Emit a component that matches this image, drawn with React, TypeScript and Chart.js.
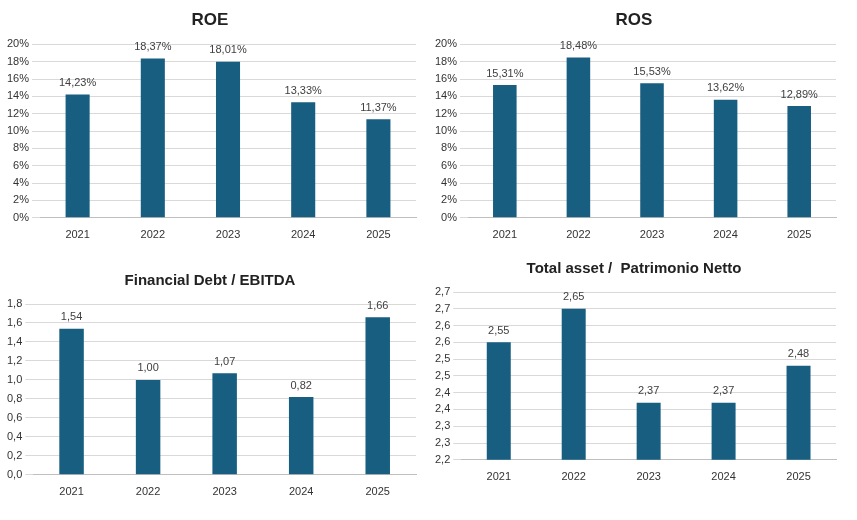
import React, { useEffect, useRef } from "react";
import Chart from "chart.js/auto";

const years = ["2021", "2022", "2023", "2024", "2025"];
const roe = [14.23, 18.37, 18.01, 13.33, 11.37];
const ros = [15.31, 18.48, 15.53, 13.62, 12.89];
const debtEbitda = [1.54, 1.0, 1.07, 0.82, 1.66];
const assetPn = [2.55, 2.65, 2.37, 2.37, 2.48];

const BAR = "#175E80";
const FONT = "'Liberation Sans', Arial, sans-serif";

const fmt = (v: number, d: number) => Number(v).toFixed(d).replace(".", ",");

type Cfg = {
  title: string; data: number[]; min: number; max: number; step: number;
  tick: (v: number) => string; label: (v: number) => string;
  left: number; top: number; width: number; height: number; titleSize: number;
};

const cfgs: Cfg[] = [
  { title: "ROE", data: roe, min: 0, max: 20, step: 2, tick: v => v.toFixed(0) + "%", label: v => fmt(v, 2) + "%", left: 0, top: 0, width: 428, height: 245, titleSize: 17 },
  { title: "ROS", data: ros, min: 0, max: 20, step: 2, tick: v => v.toFixed(0) + "%", label: v => fmt(v, 2) + "%", left: 428, top: 0, width: 420, height: 245, titleSize: 17 },
  { title: "Financial Debt / EBITDA", data: debtEbitda, min: 0, max: 1.8, step: 0.2, tick: v => fmt(v, 1), label: v => fmt(v, 2), left: 0, top: 262, width: 428, height: 240, titleSize: 15 },
  { title: "Total asset /  Patrimonio Netto", data: assetPn, min: 2.2, max: 2.7, step: 0.05, tick: v => fmt(Math.round(v * 10 + 1e-6) / 10, 1), label: v => fmt(v, 2), left: 428, top: 250, width: 420, height: 237, titleSize: 15 },
];

function makeLabelPlugin(fmtFn: (v: number) => string) {
  return {
    id: "vlabels",
    afterDatasetsDraw(chart: any) {
      const ctx = chart.ctx;
      const meta = chart.getDatasetMeta(0);
      ctx.save();
      ctx.font = `11px ${FONT}`;
      ctx.fillStyle = "#404040";
      ctx.textAlign = "center";
      ctx.textBaseline = "bottom";
      meta.data.forEach((el: any, i: number) => {
        ctx.fillText(fmtFn(chart.data.datasets[0].data[i]), el.x, el.y - 6);
      });
      ctx.restore();
    },
  };
}

function Panel({ c }: { c: Cfg }) {
  const ref = useRef<HTMLCanvasElement>(null);
  useEffect(() => {
    const chart = new Chart(ref.current!, {
      type: "bar",
      data: { labels: years, datasets: [{ data: c.data, backgroundColor: BAR, barPercentage: 0.32, categoryPercentage: 1 }] },
      options: {
        animation: false, responsive: false, maintainAspectRatio: false,
        layout: { padding: { right: 12, left: 4, top: 4 } },
        plugins: {
          legend: { display: false }, tooltip: { enabled: false },
          title: { display: true, text: c.title, color: "#222", font: { family: FONT, size: c.titleSize, weight: "bold" }, padding: { top: 6, bottom: 14 } },
        },
        scales: {
          x: { grid: { display: false }, border: { color: "#bfbfbf" }, ticks: { color: "#333", font: { family: FONT, size: 11 } } },
          y: {
            min: c.min, max: c.max,
            grid: { color: "#d9d9d9" }, border: { display: false },
            ticks: { stepSize: c.step, color: "#333", font: { family: FONT, size: 11 }, callback: (v: any) => c.tick(Number(v)) },
          },
        },
      },
      plugins: [makeLabelPlugin(c.label)],
    });
    return () => chart.destroy();
  }, []);
  return (
    <div style={{ position: "absolute", left: c.left, top: c.top, width: c.width, height: c.height }}>
      <canvas ref={ref} width={c.width} height={c.height} style={{ width: c.width, height: c.height }} />
    </div>
  );
}

export default function App() {
  useEffect(() => { document.body.style.margin = "0"; document.body.style.background = "#fff"; }, []);
  return (
    <div style={{ position: "relative", width: 857, height: 520, background: "#fff" }}>
      {cfgs.map((c, i) => <Panel key={i} c={c} />)}
    </div>
  );
}
